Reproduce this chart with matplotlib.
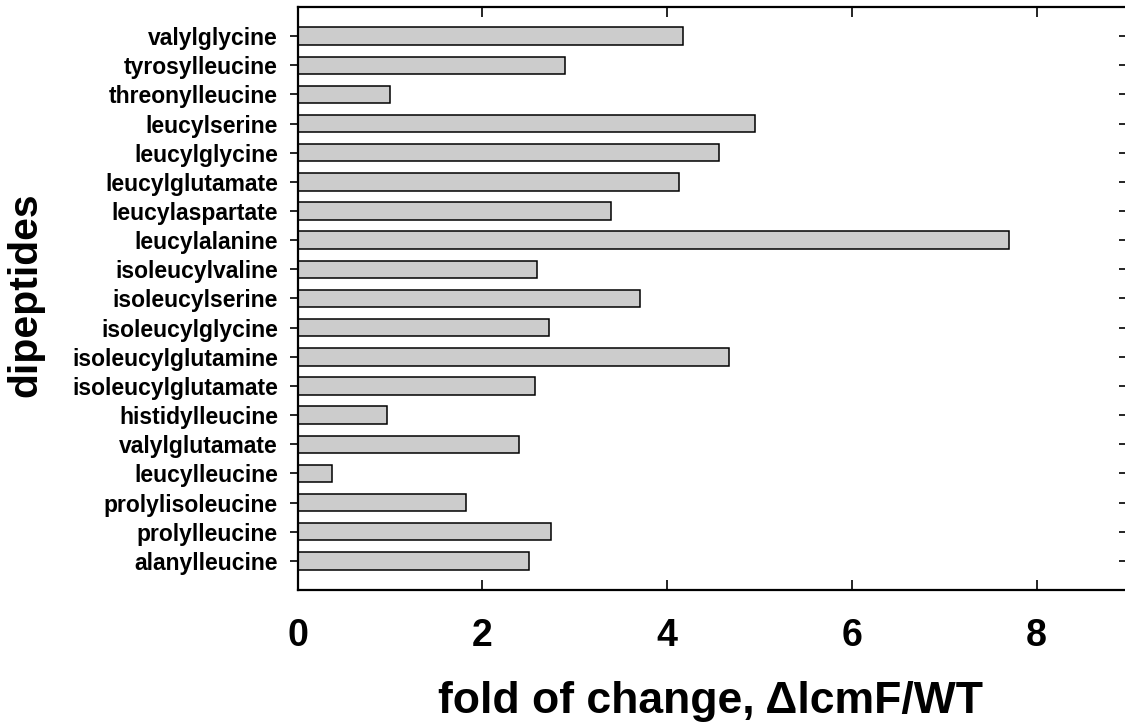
import matplotlib
matplotlib.use("Agg")
import matplotlib.pyplot as plt
import matplotlib.lines as mlines

# Dipeptide names (top to bottom) and their fold of change
dipeptides = [
    "valylglycine", "tyrosylleucine", "threonylleucine", "leucylserine",
    "leucylglycine", "leucylglutamate", "leucylaspartate", "leucylalanine",
    "isoleucylvaline", "isoleucylserine", "isoleucylglycine",
    "isoleucylglutamine", "isoleucylglutamate", "histidylleucine",
    "valylglutamate", "leucylleucine", "prolylisoleucine", "prolylleucine",
    "alanylleucine",
]
fold_change = [
    4.17, 2.90, 1.00, 4.95, 4.56, 4.13, 3.39, 7.70, 2.59, 3.71, 2.72,
    4.67, 2.57, 0.97, 2.40, 0.37, 1.82, 2.74, 2.51,
]
x_ticks = [0, 2, 4, 6, 8]

plt.rcParams["font.family"] = ["Liberation Sans", "DejaVu Sans"]
plt.rcParams["font.weight"] = "bold"

W, H = 1125, 722
fig = plt.figure(figsize=(W / 100, H / 100), dpi=100)
left, right, top, bottom = 297.5, 1129.0, 7.0, 590.0
ax = fig.add_axes([left / W, 1 - bottom / H, (right - left) / W, (bottom - top) / H])

n = len(dipeptides)
pos = list(range(n - 1, -1, -1))
ax.barh(pos, fold_change, height=0.6, color="#cccccc",
        edgecolor="black", linewidth=1.1, zorder=2)

ax.set_xlim(0, 9)
ax.set_ylim(-1, n)
ax.set_yticks(pos)
ax.set_yticklabels(dipeptides, fontsize=16.5, fontweight="bold")
ax.set_xticks(x_ticks)
ax.set_xticklabels([str(t) for t in x_ticks], fontsize=27, fontweight="bold")

for s in ("left", "top", "bottom"):
    ax.spines[s].set_linewidth(1.6)
ax.spines["right"].set_visible(False)

ax.tick_params(axis="y", which="both", direction="out", length=6, width=1.2,
               left=True, right=True, pad=8)
ax.tick_params(axis="x", which="both", direction="in", length=7, width=1.2,
               top=True, bottom=True, pad=20)
# right-hand ticks point inward from the frame edge
for t in ax.yaxis.get_major_ticks():
    t.tick2line.set_marker(mlines.TICKLEFT)
    t.tick2line.set_markersize(7)

ax.set_xlabel("fold of change, \u0394lcmF/WT", fontsize=32, fontweight="bold")
ax.xaxis.set_label_coords((711 - left) / (right - left), -(681 - bottom) / (bottom - top))
ax.set_ylabel("dipeptides", fontsize=29.5, fontweight="bold")
ax.yaxis.set_label_coords(-(left - 44) / (right - left), (bottom - 295) / (bottom - top))

fig.savefig("out.png", dpi=100)
